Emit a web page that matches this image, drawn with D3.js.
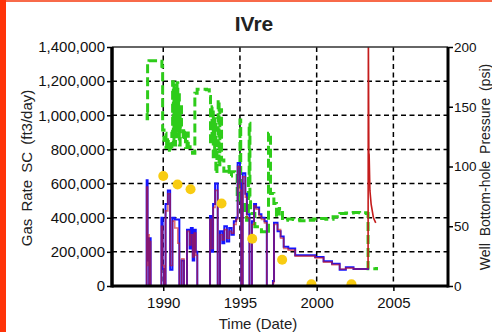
<!DOCTYPE html>
<html>
<head>
<meta charset="utf-8">
<script src="https://cdn.jsdelivr.net/npm/d3@7"></script>
<style>
  body { margin: 0; background: #fff; }
  svg { display: block; overflow: hidden; font-family: "Liberation Sans", Arial, sans-serif; }
</style>
</head>
<body>
<svg id="chart" width="492" height="332"></svg>
<script>
// tick labels
const xTicks = [1990, 1995, 2000, 2005];
const rateTicks = [0, 200000, 400000, 600000, 800000, 1000000, 1200000, 1400000];
const psiTicks = [0, 50, 100, 150, 200];

// flowing pressure (psi), green dashed
const pressYear = [1988.91, 1988.95, 1988.98, 1989.07, 1989.74, 1989.91, 1989.96, 1990.05, 1990.11, 1990.18, 1990.22, 1990.28, 1990.33, 1990.40, 1990.48, 1990.56, 1990.61, 1990.66, 1990.70, 1990.75, 1990.80, 1990.85, 1990.90, 1990.95, 1991.00, 1991.05, 1991.10, 1991.19, 1991.30, 1991.38, 1991.45, 1991.55, 1991.63, 1991.75, 1991.91, 1992.06, 1992.21, 1992.82, 1993.00, 1993.08, 1993.18, 1993.26, 1993.35, 1993.43, 1993.50, 1993.58, 1993.64, 1993.69, 1993.80, 1993.95, 1994.13, 1994.30, 1994.45, 1994.67, 1994.82, 1994.90, 1995.00, 1995.05, 1995.10, 1995.25, 1995.43, 1995.55, 1995.60, 1995.65, 1995.69, 1995.97, 1996.40, 1996.73, 1996.86, 1996.99, 1997.21, 1997.38, 1997.56, 1997.77, 1998.10, 1998.47, 1998.90, 1999.34, 1999.80, 2000.21, 2000.60, 2001.07, 2001.51, 2001.90, 2002.38, 2002.80, 2003.25, 2003.35, 2003.90];
const pressPsi = [144.6, 140.0, 186.6, 188.5, 188.0, 183.8, 130.6, 122.0, 127.8, 116.0, 124.0, 114.0, 122.2, 112.0, 116.6, 127.8, 171.0, 120.0, 168.0, 118.0, 165.0, 125.0, 170.0, 130.0, 160.0, 118.0, 150.0, 133.4, 122.2, 130.0, 116.0, 128.0, 116.6, 112.0, 111.0, 161.4, 164.7, 164.2, 158.6, 119.4, 150.0, 108.2, 140.0, 94.3, 120.0, 155.8, 100.0, 147.4, 105.4, 96.0, 99.9, 92.0, 95.7, 94.3, 71.9, 100.0, 139.0, 80.0, 60.7, 70.0, 55.1, 90.0, 136.2, 75.0, 60.7, 49.5, 45.3, 43.9, 127.8, 77.5, 69.1, 57.9, 64.9, 55.1, 56.0, 55.7, 54.5, 55.1, 56.0, 56.5, 55.8, 57.9, 60.7, 61.0, 61.5, 61.2, 60.7, 14.5, 16.0];

// gas rate (ft3/day), blue steps
const rateYear = [1988.90, 1988.92, 1988.98, 1989.00, 1989.08, 1989.13, 1989.18, 1989.86, 1989.88, 1989.96, 1990.05, 1990.15, 1990.30, 1990.45, 1990.60, 1990.75, 1990.95, 1991.05, 1991.20, 1991.35, 1991.55, 1991.72, 1991.80, 1991.92, 1992.02, 1992.12, 1992.22, 1993.00, 1993.05, 1993.12, 1993.25, 1993.38, 1993.55, 1993.70, 1993.85, 1993.98, 1994.15, 1994.30, 1994.45, 1994.60, 1994.75, 1994.85, 1995.00, 1995.08, 1995.18, 1995.35, 1995.45, 1995.62, 1995.78, 1995.92, 1996.05, 1996.25, 1996.40, 1996.60, 1996.75, 1997.15, 1997.22, 1997.45, 1997.65, 1997.85, 1998.15, 1998.60, 1999.30, 1999.90, 2000.45, 2001.00, 2001.50, 2001.90, 2002.40, 2003.35];
const rateBlue = [0, 620000, 150000, 280000, 0, 280000, 0, 0, 400000, 100000, 0, 480000, 560000, 95000, 400000, 390000, 390000, 0, 150000, 0, 330000, 220000, 340000, 150000, 330000, 200000, 0, 0, 410000, 200000, 480000, 600000, 0, 320000, 250000, 350000, 260000, 340000, 300000, 380000, 400000, 720000, 600000, 0, 660000, 540000, 420000, 0, 380000, 480000, 460000, 420000, 400000, 380000, 0, 30000, 370000, 320000, 290000, 230000, 220000, 180000, 180000, 170000, 145000, 130000, 95000, 110000, 100000, 105000];
// calculated rate (ft3/day), red steps (mostly on top of blue)
const rateRed = [0, 580000, 120000, 300000, 0, 260000, 0, 0, 350000, 120000, 0, 440000, 540000, 120000, 380000, 340000, 250000, 0, 160000, 0, 320000, 240000, 300000, 170000, 310000, 180000, 0, 0, 390000, 220000, 460000, 560000, 0, 300000, 270000, 330000, 280000, 320000, 310000, 360000, 390000, 700000, 560000, 0, 640000, 520000, 400000, 0, 360000, 470000, 450000, 410000, 390000, 370000, 0, 20000, 360000, 330000, 280000, 220000, 210000, 175000, 175000, 165000, 140000, 125000, 100000, 105000, 100000, 105000];
// red tail after shut-in
const tailYear = [2003.35, 2003.37, 2003.40, 2003.42, 2003.47, 2003.55, 2003.70, 2003.85];
const tailRate = [105000, 1500000, 780000, 770000, 560000, 480000, 400000, 370000];

// static pressure points (psi)
const staticYear = [1990.0, 1990.93, 1991.78, 1993.80, 1995.80, 1997.75, 1999.66, 2002.27];
const staticPsi = [92, 85, 81, 69, 39.6, 22, 1.5, 1.5];

const svg = d3.select("#chart");
const plot = { left: 112, right: 448, top: 47, bottom: 286 };

// borders
svg.append("rect").attr("x", 0).attr("y", 0).attr("width", 492).attr("height", 2).attr("fill", "#f86a4a");
svg.append("rect").attr("x", 0).attr("y", 0).attr("width", 6).attr("height", 332).attr("fill", "#ff3308");

const x = d3.scaleLinear().domain([1986.66, 2008.56]).range([plot.left, plot.right]);
const yRate = d3.scaleLinear().domain([0, 1400000]).range([plot.bottom, plot.top]);
const yPsi = d3.scaleLinear().domain([0, 200]).range([plot.bottom, plot.top]);

svg.append("clipPath").attr("id", "clip")
  .append("rect").attr("x", plot.left).attr("y", plot.top)
  .attr("width", plot.right - plot.left).attr("height", plot.bottom - plot.top);

// grid
const grid = svg.append("g").attr("stroke", "#000").attr("stroke-width", 1.5).attr("stroke-dasharray", "5,3.5");
grid.selectAll("line.h").data(rateTicks.slice(1, -1)).enter().append("line")
  .attr("x1", plot.left).attr("x2", plot.right)
  .attr("y1", d => yRate(d)).attr("y2", d => yRate(d));
grid.selectAll("line.v").data(xTicks).enter().append("line")
  .attr("y1", plot.top).attr("y2", plot.bottom)
  .attr("x1", d => x(d)).attr("x2", d => x(d));

const g = svg.append("g").attr("clip-path", "url(#clip)");

// green pressure
const pressData = pressYear.map((t, i) => [t, pressPsi[i]]);
g.append("path").datum(pressData)
  .attr("fill", "none").attr("stroke", "#2ecc1a").attr("stroke-width", 3)
  .attr("stroke-dasharray", "9,4")
  .attr("d", d3.line().curve(d3.curveStepAfter).x(d => x(d[0])).y(d => yPsi(d[1])));

// rates
const stepLine = d3.line().curve(d3.curveStepAfter).x(d => x(d[0])).y(d => yRate(d[1]));
g.append("path").datum(rateYear.map((t, i) => [t, rateBlue[i]]))
  .attr("fill", "none").attr("stroke", "#1414ff").attr("stroke-width", 2)
  .attr("d", stepLine);
g.append("path").datum(rateYear.map((t, i) => [t, rateRed[i]]))
  .attr("fill", "none").attr("stroke", "#d01818").attr("stroke-width", 1.6).attr("opacity", 0.6)
  .attr("d", stepLine);
g.append("path").datum(tailYear.map((t, i) => [t, tailRate[i]]))
  .attr("fill", "none").attr("stroke", "#c41c1c").attr("stroke-width", 1.6)
  .attr("d", d3.line().x(d => x(d[0])).y(d => yRate(d[1])));

// static pressure points
g.selectAll("circle").data(staticYear).enter().append("circle")
  .attr("cx", d => x(d))
  .attr("cy", (d, i) => yPsi(staticPsi[i]))
  .attr("r", 5).attr("fill", "#f8cc12");

// axes
const xAxis = svg.append("g").attr("transform", `translate(0,${plot.bottom})`)
  .call(d3.axisBottom(x).tickValues(xTicks).tickFormat(d3.format("d")).tickSize(5).tickSizeOuter(0).tickPadding(6));
const leftAxis = svg.append("g").attr("transform", `translate(${plot.left},0)`)
  .call(d3.axisLeft(yRate).tickValues(rateTicks).tickFormat(d3.format(",")).tickSize(5).tickSizeOuter(0).tickPadding(2));
const rightAxis = svg.append("g").attr("transform", `translate(${plot.right},0)`)
  .call(d3.axisRight(yPsi).tickValues(psiTicks).tickSize(5).tickSizeOuter(0).tickPadding(1));
[[xAxis, "15px"], [leftAxis, "15px"], [rightAxis, "13.5px"]].forEach(([a, fs]) => {
  a.select(".domain").remove();
  a.selectAll(".tick line").attr("stroke", "#000").attr("stroke-width", 1.5);
  a.selectAll("text").attr("font-size", fs).attr("fill", "#111").attr("font-family", "Liberation Sans, Arial, sans-serif");
});

// frame
svg.append("line").attr("x1", plot.left).attr("x2", plot.right).attr("y1", plot.top).attr("y2", plot.top)
  .attr("stroke", "#333").attr("stroke-width", 1.5);
svg.append("line").attr("x1", plot.left).attr("x2", plot.left).attr("y1", plot.top).attr("y2", plot.bottom + 1.5)
  .attr("stroke", "#000").attr("stroke-width", 3.5);
svg.append("line").attr("x1", plot.right).attr("x2", plot.right).attr("y1", plot.top).attr("y2", plot.bottom + 1.5)
  .attr("stroke", "#000").attr("stroke-width", 3);
svg.append("line").attr("x1", plot.left).attr("x2", plot.right).attr("y1", plot.bottom).attr("y2", plot.bottom)
  .attr("stroke", "#000").attr("stroke-width", 3);

// titles
svg.append("text").attr("x", 254).attr("y", 31).attr("text-anchor", "middle")
  .attr("font-size", "21px").attr("font-weight", "bold").attr("fill", "#222").text("IVre");
svg.append("text").attr("transform", "translate(32,168) rotate(-90)").attr("text-anchor", "middle")
  .attr("font-size", "15px").attr("word-spacing", "3px").attr("fill", "#222").text("Gas Rate SC (ft3/day)");
svg.append("text").attr("transform", "translate(490,167) rotate(-90)").attr("text-anchor", "middle")
  .attr("font-size", "14px").attr("word-spacing", "3px").attr("fill", "#222").text("Well Bottom-hole Pressure (psi)");
svg.append("text").attr("x", 258).attr("y", 329).attr("text-anchor", "middle")
  .attr("font-size", "15px").attr("fill", "#222").text("Time (Date)");
</script>
</body>
</html>
